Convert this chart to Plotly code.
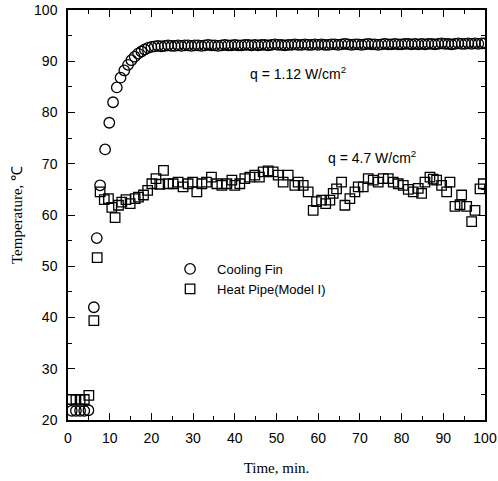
import plotly.graph_objects as go

# Cooling fin (circles)
fin_time = [0.9, 1.9, 2.9, 3.9, 4.9, 6.2, 6.9, 7.7, 8.9, 9.9, 10.8, 11.7, 12.6, 13.5, 14.4,
            15.2, 16.0, 16.8, 17.6, 18.4, 19.2, 20.0,
            20.8, 21.6, 22.4, 23.2, 24.0, 24.8, 25.6, 26.4, 27.2, 28.0,
            28.8, 29.6, 30.4, 31.2, 32.0, 32.8, 33.6, 34.4, 35.2, 36.0,
            36.8, 37.6, 38.4, 39.2, 40.0, 40.8, 41.6, 42.4, 43.2, 44.0,
            44.8, 45.6, 46.4, 47.2, 48.0, 48.8, 49.6, 50.4, 51.2, 52.0,
            52.8, 53.6, 54.4, 55.2, 56.0, 56.8, 57.6, 58.4, 59.2, 60.0,
            60.8, 61.6, 62.4, 63.2, 64.0, 64.8, 65.6, 66.4, 67.2, 68.0,
            68.8, 69.6, 70.4, 71.2, 72.0, 72.8, 73.6, 74.4, 75.2, 76.0,
            76.8, 77.6, 78.4, 79.2, 80.0, 80.8, 81.6, 82.4, 83.2, 84.0,
            84.8, 85.6, 86.4, 87.2, 88.0, 88.8, 89.6, 90.4, 91.2, 92.0,
            92.8, 93.6, 94.4, 95.2, 96.0, 96.8, 97.6, 98.4, 99.2, 100.0]
fin_temp = [21.8, 21.8, 21.8, 21.8, 21.9, 42.0, 55.5, 65.8, 72.8, 78.0, 82.0, 84.9, 86.8, 88.2, 89.3,
            90.2, 90.9, 91.5, 91.9, 92.3, 92.6, 92.8,
            92.9, 93.0, 92.9, 93.0, 93.1, 93.0, 93.0, 93.1, 93.0, 93.1,
            93.1, 93.0, 93.1, 93.1, 93.0, 93.1, 93.2, 93.1, 93.1, 93.0,
            93.1, 93.2, 93.1, 93.1, 93.2, 93.1, 93.1, 93.2, 93.2, 93.1,
            93.2, 93.1, 93.2, 93.2, 93.1, 93.2, 93.3, 93.2, 93.2, 93.1,
            93.2, 93.2, 93.3, 93.2, 93.2, 93.3, 93.2, 93.2, 93.3, 93.2,
            93.3, 93.2, 93.2, 93.3, 93.3, 93.2, 93.3, 93.4, 93.3, 93.2,
            93.3, 93.3, 93.2, 93.3, 93.4, 93.3, 93.3, 93.2, 93.3, 93.4,
            93.3, 93.3, 93.4, 93.3, 93.3, 93.4, 93.4, 93.3, 93.4, 93.3,
            93.4, 93.3, 93.4, 93.4, 93.3, 93.4, 93.5, 93.4, 93.4, 93.3,
            93.4, 93.5, 93.4, 93.4, 93.5, 93.4, 93.5, 93.4, 93.5, 93.5]

# Heat pipe (squares)
pipe_time = [0.9, 1.9, 2.9, 3.9, 5.0, 6.2, 7.0, 7.7, 8.7, 9.7, 10.5, 11.3, 12.1, 12.9, 13.9,
             14.9, 16.1, 16.9, 18.1, 19.1, 20.1, 21.1, 22.0, 22.9, 24.0, 25.2, 26.4, 27.6, 28.8,
             29.9, 30.9, 32.1, 33.2, 34.4, 35.7, 36.9, 38.1, 39.3, 40.0, 41.2, 42.4, 43.6, 44.8,
             45.9, 46.8, 48.0, 49.2, 50.4, 51.6, 52.8, 54.4, 55.2, 56.4, 57.6, 58.8, 59.6, 60.8,
             61.8, 62.8, 63.6, 64.4, 65.6, 66.4, 67.6, 68.8, 69.6, 70.8, 72.0, 73.2, 74.4, 75.6,
             76.8, 78.0, 79.2, 80.4, 81.6, 82.8, 84.0, 84.8, 85.6, 86.8, 87.6, 88.4, 89.6, 90.8,
             91.6, 92.8, 94.0, 94.4, 95.6, 96.8, 97.6, 98.8, 99.6]
pipe_temp = [24.0, 24.0, 24.0, 24.0, 24.8, 39.4, 51.7, 64.5, 63.0, 63.2, 61.5, 59.5, 61.9, 62.5, 63.0,
             62.2, 63.2, 63.5, 63.9, 64.8, 66.1, 67.1, 66.0, 68.7, 66.1, 66.1, 66.4, 65.5, 66.1,
             66.4, 64.5, 66.1, 66.4, 67.4, 66.1, 65.8, 66.1, 66.8, 65.8, 66.1, 67.1, 67.4, 67.8,
             67.4, 68.4, 68.6, 68.4, 67.8, 66.4, 67.8, 65.8, 66.4, 65.8, 64.5, 60.9, 62.6, 62.9,
             62.2, 62.9, 64.2, 65.1, 66.4, 61.9, 63.2, 64.5, 65.5, 65.5, 67.1, 66.8, 66.4, 67.1,
             67.1, 66.4, 66.1, 65.8, 65.0, 64.5, 65.2, 64.2, 66.4, 67.4, 67.0, 66.8, 65.8, 64.5,
             66.4, 61.7, 62.0, 63.9, 61.7, 58.7, 60.9, 65.1, 66.1]

x_ticks = [0, 10, 20, 30, 40, 50, 60, 70, 80, 90, 100]
y_ticks = [20, 30, 40, 50, 60, 70, 80, 90, 100]

sans = "Liberation Sans, Arial, sans-serif"
serif = "Liberation Serif, Times New Roman, serif"

fig = go.Figure()
fig.add_trace(go.Scatter(
    x=fin_time, y=fin_temp, mode="markers", name="Cooling Fin",
    marker=dict(symbol="circle-open", size=10.5, color="black", line=dict(width=1.3, color="black")),
))
fig.add_trace(go.Scatter(
    x=pipe_time, y=pipe_temp, mode="markers", name="Heat Pipe(Model I)",
    marker=dict(symbol="square-open", size=9.5, color="black", line=dict(width=1.3, color="black")),
))

axis_common = dict(
    showline=True, linecolor="black", linewidth=1.5, mirror="allticks",
    ticks="inside", ticklen=7, tickwidth=1.3, tickcolor="black",
    showgrid=False, zeroline=False, automargin=False,
    tickfont=dict(family=sans, size=14, color="black"),
)
fig.update_xaxes(
    range=[0, 100], tickvals=x_ticks, ticktext=[str(v) for v in x_ticks],
    minor=dict(ticks="inside", ticklen=4, dtick=5, tickcolor="black", tickwidth=1.2),
    ticklabelstandoff=4,
    title=dict(text="Time, min.", font=dict(family=serif, size=15, color="black"), standoff=18),
    **axis_common,
)
fig.update_yaxes(
    range=[20, 100], tickvals=y_ticks, ticktext=[str(v) for v in y_ticks],
    minor=dict(ticks="inside", ticklen=4, dtick=5, tickcolor="black", tickwidth=1.2),
    ticklabelstandoff=6,
    title=dict(text="Temperature, ℃", font=dict(family=serif, size=15, color="black"), standoff=8),
    **axis_common,
)

fig.add_annotation(x=55.2, y=87.8, text="q = 1.12 W/cm<sup>2</sup>", showarrow=False,
                   font=dict(family=sans, size=14, color="black"))
fig.add_annotation(x=72.9, y=71.3, text="q = 4.7 W/cm<sup>2</sup>", showarrow=False,
                   font=dict(family=sans, size=14, color="black"))

fig.update_layout(
    width=498, height=481,
    margin=dict(l=68, r=13, t=10, b=61),
    paper_bgcolor="white", plot_bgcolor="white",
    showlegend=True,
    legend=dict(x=0.228, y=0.405, xanchor="left", yanchor="top", itemwidth=44,
                bgcolor="rgba(0,0,0,0)", font=dict(family=sans, size=13, color="black"),
                tracegroupgap=2),
)

fig.write_html("out.html", config={"displayModeBar": False},
               post_script="document.body.style.margin='0';document.body.style.overflow='hidden';")
